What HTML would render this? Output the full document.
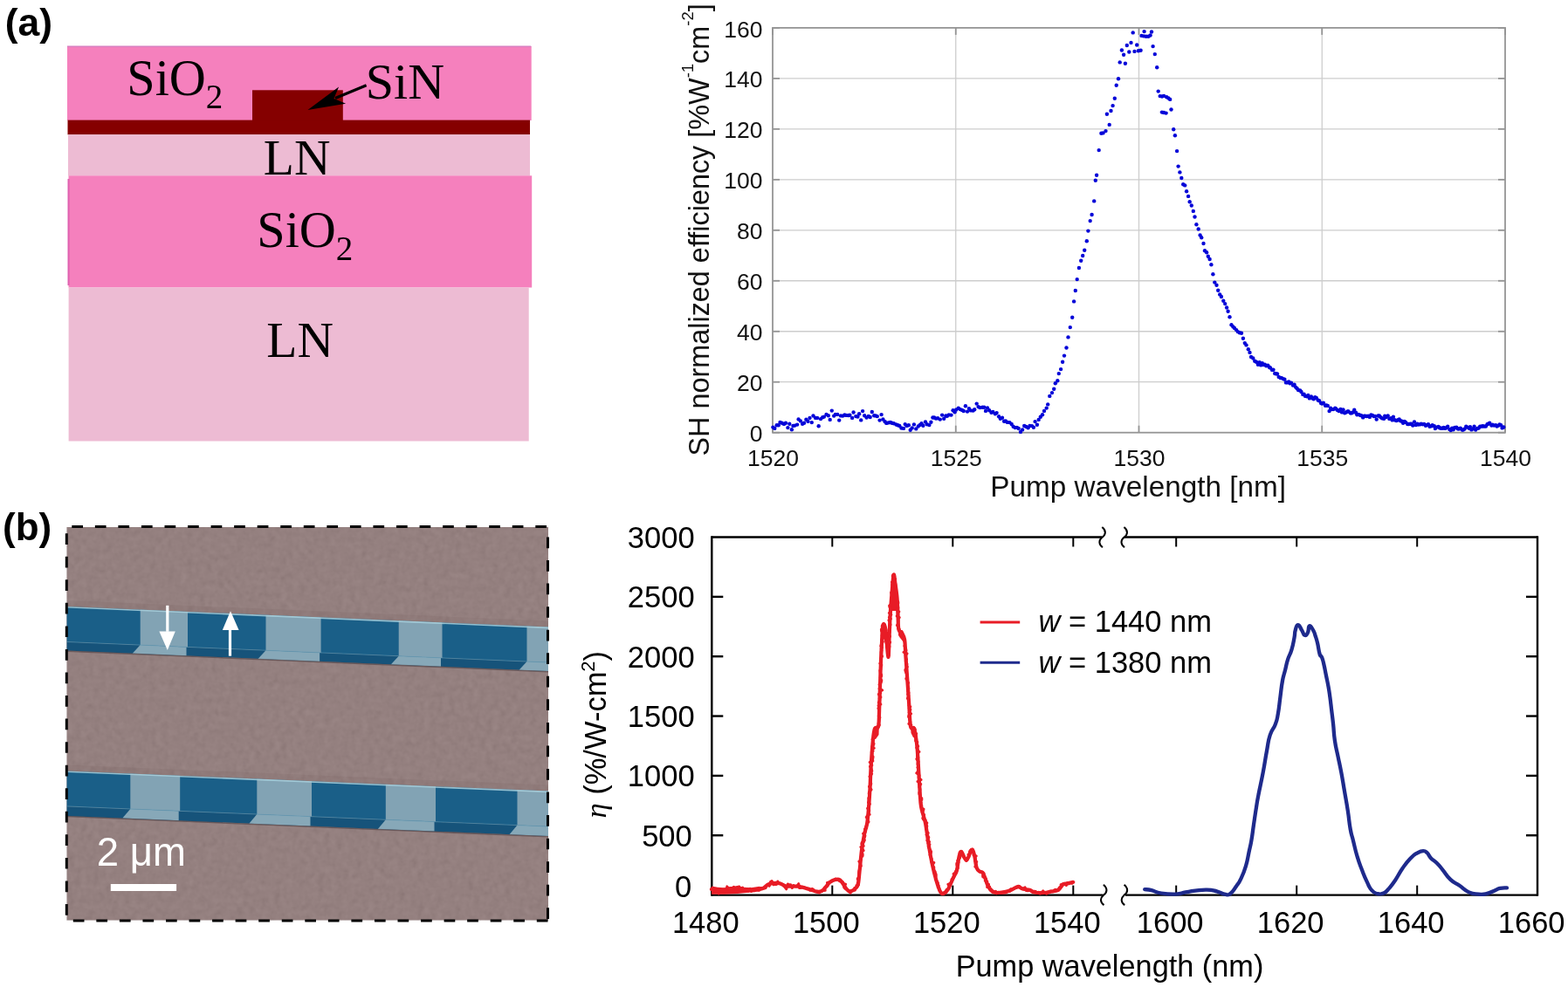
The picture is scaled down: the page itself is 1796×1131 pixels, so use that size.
<!DOCTYPE html>
<html><head><meta charset="utf-8"><title>Figure</title>
<style>
html,body{margin:0;padding:0;background:#fff;width:1796px;height:1131px;overflow:hidden}
svg{display:block}
.ser{font-family:"Liberation Serif","Times New Roman",serif}
.sans{font-family:"Liberation Sans",Arial,Helvetica,sans-serif}
</style></head><body>
<svg width="1796" height="1131" viewBox="0 0 1796 1131">

<text class="sans" x="5.8" y="40.5" font-size="44.5" font-weight="bold" fill="#000">(a)</text>
<text class="sans" x="3" y="619.3" font-size="44" font-weight="bold" fill="#000">(b)</text>
<rect x="77" y="53" width="531.7" height="85" fill="#F580BD"/>
<rect x="77" y="52.5" width="531.2" height="1.5" fill="#d97fc0"/>
<rect x="77.5" y="137.6" width="529.5" height="16.7" fill="#850000"/>
<rect x="289" y="103.3" width="103.8" height="35" fill="#850000"/>
<rect x="78" y="154.3" width="529" height="47.2" fill="#EDBBD3"/>
<rect x="78.5" y="201.3" width="530.7" height="128.2" fill="#F580BD"/>
<rect x="77.5" y="205" width="2" height="122" fill="#e060b0"/>
<rect x="78.6" y="329.5" width="527.1" height="176" fill="#EDBBD3"/>
<text class="ser" x="145.3" y="109.3" font-size="58.2" fill="#000">SiO<tspan font-size="39" dy="14.8">2</tspan></text>
<text class="ser" x="418.8" y="113.4" font-size="58" fill="#000">SiN</text>
<text class="ser" x="301.8" y="200" font-size="57.5" fill="#000">LN</text>
<text class="ser" x="294.3" y="283.3" font-size="58.2" fill="#000">SiO<tspan font-size="39" dy="14.8">2</tspan></text>
<text class="ser" x="305.3" y="408.6" font-size="57.5" fill="#000">LN</text>
<line x1="419.6" y1="97.8" x2="384" y2="112.4" stroke="#000" stroke-width="3.2"/>
<path d="M352.5,126.1 L388.1,99.5 L382.4,112.9 L396.1,118.8 Z" fill="#000"/>
<line x1="885.0" y1="437.72" x2="1724.0" y2="437.72" stroke="#cdcdcd" stroke-width="1.3"/>
<line x1="885.0" y1="379.75" x2="1724.0" y2="379.75" stroke="#cdcdcd" stroke-width="1.3"/>
<line x1="885.0" y1="321.77" x2="1724.0" y2="321.77" stroke="#cdcdcd" stroke-width="1.3"/>
<line x1="885.0" y1="263.80" x2="1724.0" y2="263.80" stroke="#cdcdcd" stroke-width="1.3"/>
<line x1="885.0" y1="205.82" x2="1724.0" y2="205.82" stroke="#cdcdcd" stroke-width="1.3"/>
<line x1="885.0" y1="147.85" x2="1724.0" y2="147.85" stroke="#cdcdcd" stroke-width="1.3"/>
<line x1="885.0" y1="89.88" x2="1724.0" y2="89.88" stroke="#cdcdcd" stroke-width="1.3"/>
<line x1="1094.75" y1="31.9" x2="1094.75" y2="495.7" stroke="#cdcdcd" stroke-width="1.3"/>
<line x1="1304.50" y1="31.9" x2="1304.50" y2="495.7" stroke="#cdcdcd" stroke-width="1.3"/>
<line x1="1514.25" y1="31.9" x2="1514.25" y2="495.7" stroke="#cdcdcd" stroke-width="1.3"/>
<rect x="885.0" y="31.9" width="839.0" height="463.8" fill="none" stroke="#959595" stroke-width="1.8"/>
<line x1="885.0" y1="495.70" x2="893.0" y2="495.70" stroke="#959595" stroke-width="1.8"/>
<line x1="1724.0" y1="495.70" x2="1716.0" y2="495.70" stroke="#959595" stroke-width="1.8"/>
<line x1="885.0" y1="437.72" x2="893.0" y2="437.72" stroke="#959595" stroke-width="1.8"/>
<line x1="1724.0" y1="437.72" x2="1716.0" y2="437.72" stroke="#959595" stroke-width="1.8"/>
<line x1="885.0" y1="379.75" x2="893.0" y2="379.75" stroke="#959595" stroke-width="1.8"/>
<line x1="1724.0" y1="379.75" x2="1716.0" y2="379.75" stroke="#959595" stroke-width="1.8"/>
<line x1="885.0" y1="321.77" x2="893.0" y2="321.77" stroke="#959595" stroke-width="1.8"/>
<line x1="1724.0" y1="321.77" x2="1716.0" y2="321.77" stroke="#959595" stroke-width="1.8"/>
<line x1="885.0" y1="263.80" x2="893.0" y2="263.80" stroke="#959595" stroke-width="1.8"/>
<line x1="1724.0" y1="263.80" x2="1716.0" y2="263.80" stroke="#959595" stroke-width="1.8"/>
<line x1="885.0" y1="205.82" x2="893.0" y2="205.82" stroke="#959595" stroke-width="1.8"/>
<line x1="1724.0" y1="205.82" x2="1716.0" y2="205.82" stroke="#959595" stroke-width="1.8"/>
<line x1="885.0" y1="147.85" x2="893.0" y2="147.85" stroke="#959595" stroke-width="1.8"/>
<line x1="1724.0" y1="147.85" x2="1716.0" y2="147.85" stroke="#959595" stroke-width="1.8"/>
<line x1="885.0" y1="89.88" x2="893.0" y2="89.88" stroke="#959595" stroke-width="1.8"/>
<line x1="1724.0" y1="89.88" x2="1716.0" y2="89.88" stroke="#959595" stroke-width="1.8"/>
<line x1="885.0" y1="31.90" x2="893.0" y2="31.90" stroke="#959595" stroke-width="1.8"/>
<line x1="1724.0" y1="31.90" x2="1716.0" y2="31.90" stroke="#959595" stroke-width="1.8"/>
<line x1="885.00" y1="495.7" x2="885.00" y2="487.7" stroke="#959595" stroke-width="1.8"/>
<line x1="885.00" y1="31.9" x2="885.00" y2="39.9" stroke="#959595" stroke-width="1.8"/>
<line x1="1094.75" y1="495.7" x2="1094.75" y2="487.7" stroke="#959595" stroke-width="1.8"/>
<line x1="1094.75" y1="31.9" x2="1094.75" y2="39.9" stroke="#959595" stroke-width="1.8"/>
<line x1="1304.50" y1="495.7" x2="1304.50" y2="487.7" stroke="#959595" stroke-width="1.8"/>
<line x1="1304.50" y1="31.9" x2="1304.50" y2="39.9" stroke="#959595" stroke-width="1.8"/>
<line x1="1514.25" y1="495.7" x2="1514.25" y2="487.7" stroke="#959595" stroke-width="1.8"/>
<line x1="1514.25" y1="31.9" x2="1514.25" y2="39.9" stroke="#959595" stroke-width="1.8"/>
<line x1="1724.00" y1="495.7" x2="1724.00" y2="487.7" stroke="#959595" stroke-width="1.8"/>
<line x1="1724.00" y1="31.9" x2="1724.00" y2="39.9" stroke="#959595" stroke-width="1.8"/>
<text class="sans" x="873.4" y="506.30" font-size="26.5" fill="#111111" text-anchor="end">0</text>
<text class="sans" x="873.4" y="448.32" font-size="26.5" fill="#111111" text-anchor="end">20</text>
<text class="sans" x="873.4" y="390.35" font-size="26.5" fill="#111111" text-anchor="end">40</text>
<text class="sans" x="873.4" y="332.38" font-size="26.5" fill="#111111" text-anchor="end">60</text>
<text class="sans" x="873.4" y="274.40" font-size="26.5" fill="#111111" text-anchor="end">80</text>
<text class="sans" x="873.4" y="216.42" font-size="26.5" fill="#111111" text-anchor="end">100</text>
<text class="sans" x="873.4" y="158.45" font-size="26.5" fill="#111111" text-anchor="end">120</text>
<text class="sans" x="873.4" y="100.47" font-size="26.5" fill="#111111" text-anchor="end">140</text>
<text class="sans" x="873.4" y="42.50" font-size="26.5" fill="#111111" text-anchor="end">160</text>
<text class="sans" x="885.40" y="533.8" font-size="26.5" fill="#111111" text-anchor="middle">1520</text>
<text class="sans" x="1095.15" y="533.8" font-size="26.5" fill="#111111" text-anchor="middle">1525</text>
<text class="sans" x="1304.90" y="533.8" font-size="26.5" fill="#111111" text-anchor="middle">1530</text>
<text class="sans" x="1514.65" y="533.8" font-size="26.5" fill="#111111" text-anchor="middle">1535</text>
<text class="sans" x="1724.40" y="533.8" font-size="26.5" fill="#111111" text-anchor="middle">1540</text>
<text class="sans" x="1303.7" y="569.2" font-size="33.3" fill="#111111" text-anchor="middle">Pump wavelength [nm]</text>
<text class="sans" transform="translate(811.8,263.4) rotate(-90)" font-size="32.4" fill="#111111" text-anchor="middle">SH normalized efficiency [%W<tspan font-size="18.5" dy="-18">-1</tspan><tspan dy="18">cm</tspan><tspan font-size="18.5" dy="-18">-2</tspan><tspan dy="18">]</tspan></text>
<g fill="#0505d8">
<circle cx="885.4" cy="489.6" r="2.2"/>
<circle cx="887.3" cy="490.9" r="2.2"/>
<circle cx="889.7" cy="487.3" r="2.2"/>
<circle cx="891.8" cy="487.3" r="2.2"/>
<circle cx="893.5" cy="483.9" r="2.2"/>
<circle cx="895.7" cy="484.8" r="2.2"/>
<circle cx="898.0" cy="485.9" r="2.2"/>
<circle cx="900.0" cy="484.7" r="2.2"/>
<circle cx="902.4" cy="490.1" r="2.2"/>
<circle cx="904.3" cy="485.7" r="2.2"/>
<circle cx="906.9" cy="492.2" r="2.2"/>
<circle cx="908.4" cy="487.9" r="2.2"/>
<circle cx="910.4" cy="487.6" r="2.2"/>
<circle cx="913.1" cy="486.6" r="2.2"/>
<circle cx="914.6" cy="480.4" r="2.2"/>
<circle cx="916.9" cy="482.4" r="2.2"/>
<circle cx="919.1" cy="485.8" r="2.2"/>
<circle cx="921.0" cy="484.7" r="2.2"/>
<circle cx="923.4" cy="480.8" r="2.2"/>
<circle cx="925.5" cy="482.9" r="2.2"/>
<circle cx="927.5" cy="478.9" r="2.2"/>
<circle cx="929.8" cy="484.1" r="2.2"/>
<circle cx="931.5" cy="476.5" r="2.2"/>
<circle cx="934.1" cy="478.9" r="2.2"/>
<circle cx="936.1" cy="478.9" r="2.2"/>
<circle cx="937.7" cy="488.3" r="2.2"/>
<circle cx="940.0" cy="480.1" r="2.2"/>
<circle cx="942.2" cy="478.3" r="2.2"/>
<circle cx="943.9" cy="477.6" r="2.2"/>
<circle cx="946.5" cy="474.9" r="2.2"/>
<circle cx="948.8" cy="476.2" r="2.2"/>
<circle cx="950.7" cy="480.9" r="2.2"/>
<circle cx="952.8" cy="470.6" r="2.2"/>
<circle cx="955.2" cy="476.6" r="2.2"/>
<circle cx="956.9" cy="474.9" r="2.2"/>
<circle cx="959.2" cy="474.9" r="2.2"/>
<circle cx="961.2" cy="481.6" r="2.2"/>
<circle cx="963.0" cy="476.4" r="2.2"/>
<circle cx="965.2" cy="476.6" r="2.2"/>
<circle cx="967.4" cy="475.5" r="2.2"/>
<circle cx="969.2" cy="475.9" r="2.2"/>
<circle cx="971.8" cy="476.0" r="2.2"/>
<circle cx="973.4" cy="475.8" r="2.2"/>
<circle cx="976.1" cy="478.9" r="2.2"/>
<circle cx="977.6" cy="472.5" r="2.2"/>
<circle cx="980.3" cy="477.1" r="2.2"/>
<circle cx="982.4" cy="477.5" r="2.2"/>
<circle cx="984.1" cy="474.2" r="2.2"/>
<circle cx="986.2" cy="481.4" r="2.2"/>
<circle cx="988.1" cy="471.1" r="2.2"/>
<circle cx="990.2" cy="476.3" r="2.2"/>
<circle cx="992.6" cy="478.6" r="2.2"/>
<circle cx="994.8" cy="476.9" r="2.2"/>
<circle cx="996.7" cy="478.0" r="2.2"/>
<circle cx="998.8" cy="472.0" r="2.2"/>
<circle cx="1001.2" cy="476.3" r="2.2"/>
<circle cx="1003.1" cy="476.4" r="2.2"/>
<circle cx="1004.8" cy="477.1" r="2.2"/>
<circle cx="1007.6" cy="481.6" r="2.2"/>
<circle cx="1009.6" cy="475.1" r="2.2"/>
<circle cx="1011.4" cy="480.5" r="2.2"/>
<circle cx="1013.7" cy="483.2" r="2.2"/>
<circle cx="1015.3" cy="484.9" r="2.2"/>
<circle cx="1017.5" cy="484.4" r="2.2"/>
<circle cx="1019.8" cy="484.0" r="2.2"/>
<circle cx="1021.7" cy="484.8" r="2.2"/>
<circle cx="1023.8" cy="485.2" r="2.2"/>
<circle cx="1026.5" cy="486.5" r="2.2"/>
<circle cx="1028.4" cy="487.3" r="2.2"/>
<circle cx="1030.3" cy="487.9" r="2.2"/>
<circle cx="1032.4" cy="490.5" r="2.2"/>
<circle cx="1035.0" cy="490.9" r="2.2"/>
<circle cx="1036.7" cy="486.1" r="2.2"/>
<circle cx="1038.5" cy="487.9" r="2.2"/>
<circle cx="1040.8" cy="487.3" r="2.2"/>
<circle cx="1042.7" cy="492.8" r="2.2"/>
<circle cx="1044.7" cy="490.4" r="2.2"/>
<circle cx="1046.9" cy="486.4" r="2.2"/>
<circle cx="1049.3" cy="491.4" r="2.2"/>
<circle cx="1051.8" cy="488.5" r="2.2"/>
<circle cx="1053.8" cy="486.9" r="2.2"/>
<circle cx="1055.5" cy="485.3" r="2.2"/>
<circle cx="1057.4" cy="487.7" r="2.2"/>
<circle cx="1060.0" cy="483.5" r="2.2"/>
<circle cx="1061.8" cy="486.2" r="2.2"/>
<circle cx="1064.4" cy="487.1" r="2.2"/>
<circle cx="1066.4" cy="483.7" r="2.2"/>
<circle cx="1068.4" cy="478.5" r="2.2"/>
<circle cx="1070.1" cy="478.5" r="2.2"/>
<circle cx="1072.0" cy="479.6" r="2.2"/>
<circle cx="1074.1" cy="479.3" r="2.2"/>
<circle cx="1076.8" cy="480.6" r="2.2"/>
<circle cx="1079.1" cy="475.6" r="2.2"/>
<circle cx="1081.2" cy="479.7" r="2.2"/>
<circle cx="1083.3" cy="476.5" r="2.2"/>
<circle cx="1084.8" cy="476.8" r="2.2"/>
<circle cx="1086.9" cy="475.4" r="2.2"/>
<circle cx="1089.5" cy="475.6" r="2.2"/>
<circle cx="1091.6" cy="470.3" r="2.2"/>
<circle cx="1093.6" cy="472.3" r="2.2"/>
<circle cx="1095.2" cy="469.5" r="2.2"/>
<circle cx="1097.8" cy="467.8" r="2.2"/>
<circle cx="1099.9" cy="469.1" r="2.2"/>
<circle cx="1102.0" cy="470.0" r="2.2"/>
<circle cx="1103.8" cy="471.0" r="2.2"/>
<circle cx="1105.9" cy="465.3" r="2.2"/>
<circle cx="1108.0" cy="471.6" r="2.2"/>
<circle cx="1109.9" cy="468.1" r="2.2"/>
<circle cx="1112.0" cy="470.4" r="2.2"/>
<circle cx="1114.6" cy="470.6" r="2.2"/>
<circle cx="1116.2" cy="469.3" r="2.2"/>
<circle cx="1118.7" cy="462.6" r="2.2"/>
<circle cx="1120.6" cy="466.1" r="2.2"/>
<circle cx="1122.4" cy="467.1" r="2.2"/>
<circle cx="1125.3" cy="466.7" r="2.2"/>
<circle cx="1127.3" cy="466.7" r="2.2"/>
<circle cx="1129.0" cy="470.9" r="2.2"/>
<circle cx="1131.0" cy="467.4" r="2.2"/>
<circle cx="1133.1" cy="470.3" r="2.2"/>
<circle cx="1135.5" cy="472.8" r="2.2"/>
<circle cx="1137.3" cy="472.0" r="2.2"/>
<circle cx="1139.9" cy="474.2" r="2.2"/>
<circle cx="1141.6" cy="473.1" r="2.2"/>
<circle cx="1144.1" cy="477.2" r="2.2"/>
<circle cx="1145.8" cy="479.8" r="2.2"/>
<circle cx="1148.0" cy="478.7" r="2.2"/>
<circle cx="1150.1" cy="482.8" r="2.2"/>
<circle cx="1151.9" cy="482.5" r="2.2"/>
<circle cx="1153.9" cy="483.9" r="2.2"/>
<circle cx="1156.4" cy="484.1" r="2.2"/>
<circle cx="1158.7" cy="486.0" r="2.2"/>
<circle cx="1160.6" cy="488.7" r="2.2"/>
<circle cx="1162.7" cy="490.1" r="2.2"/>
<circle cx="1164.8" cy="489.9" r="2.2"/>
<circle cx="1166.7" cy="491.0" r="2.2"/>
<circle cx="1169.0" cy="494.9" r="2.2"/>
<circle cx="1171.1" cy="492.4" r="2.2"/>
<circle cx="1173.2" cy="488.0" r="2.2"/>
<circle cx="1175.4" cy="489.0" r="2.2"/>
<circle cx="1177.6" cy="490.2" r="2.2"/>
<circle cx="1179.5" cy="487.9" r="2.2"/>
<circle cx="1182.0" cy="488.1" r="2.2"/>
<circle cx="1183.9" cy="489.8" r="2.2"/>
<circle cx="1185.6" cy="483.1" r="2.2"/>
<circle cx="1187.9" cy="486.8" r="2.2"/>
<circle cx="1189.7" cy="480.9" r="2.2"/>
<circle cx="1191.8" cy="477.8" r="2.2"/>
<circle cx="1194.0" cy="475.2" r="2.2"/>
<circle cx="1196.0" cy="470.9" r="2.2"/>
<circle cx="1198.7" cy="467.6" r="2.2"/>
<circle cx="1200.2" cy="463.4" r="2.2"/>
<circle cx="1202.3" cy="453.9" r="2.2"/>
<circle cx="1205.0" cy="450.1" r="2.2"/>
<circle cx="1207.2" cy="445.8" r="2.2"/>
<circle cx="1208.8" cy="439.3" r="2.2"/>
<circle cx="1211.3" cy="436.2" r="2.2"/>
<circle cx="1212.8" cy="428.1" r="2.2"/>
<circle cx="1215.1" cy="423.1" r="2.2"/>
<circle cx="1217.1" cy="414.7" r="2.2"/>
<circle cx="1219.0" cy="407.6" r="2.2"/>
<circle cx="1221.5" cy="398.5" r="2.2"/>
<circle cx="1223.5" cy="386.4" r="2.2"/>
<circle cx="1225.8" cy="375.1" r="2.2"/>
<circle cx="1228.2" cy="363.8" r="2.2"/>
<circle cx="1230.1" cy="345.4" r="2.2"/>
<circle cx="1231.8" cy="333.0" r="2.2"/>
<circle cx="1233.7" cy="320.1" r="2.2"/>
<circle cx="1235.9" cy="307.0" r="2.2"/>
<circle cx="1238.2" cy="298.7" r="2.2"/>
<circle cx="1240.2" cy="293.0" r="2.2"/>
<circle cx="1242.2" cy="286.7" r="2.2"/>
<circle cx="1244.8" cy="276.3" r="2.2"/>
<circle cx="1246.4" cy="264.6" r="2.2"/>
<circle cx="1248.7" cy="253.1" r="2.2"/>
<circle cx="1250.6" cy="246.0" r="2.2"/>
<circle cx="1253.2" cy="230.4" r="2.2"/>
<circle cx="1254.8" cy="206.8" r="2.2"/>
<circle cx="1256.1" cy="200.7" r="2.2"/>
<circle cx="1258.7" cy="172.1" r="2.2"/>
<circle cx="1261.4" cy="152.7" r="2.2"/>
<circle cx="1263.5" cy="152.4" r="2.2"/>
<circle cx="1266.5" cy="150.1" r="2.2"/>
<circle cx="1270.7" cy="142.9" r="2.2"/>
<circle cx="1267.9" cy="130.7" r="2.2"/>
<circle cx="1272.5" cy="127.0" r="2.2"/>
<circle cx="1274.6" cy="121.1" r="2.2"/>
<circle cx="1276.8" cy="112.7" r="2.2"/>
<circle cx="1278.7" cy="97.8" r="2.2"/>
<circle cx="1281.0" cy="90.3" r="2.2"/>
<circle cx="1282.7" cy="71.4" r="2.2"/>
<circle cx="1288.9" cy="72.7" r="2.2"/>
<circle cx="1284.9" cy="57.5" r="2.2"/>
<circle cx="1287.1" cy="62.8" r="2.2"/>
<circle cx="1290.8" cy="52.0" r="2.2"/>
<circle cx="1293.3" cy="59.5" r="2.2"/>
<circle cx="1295.5" cy="48.9" r="2.2"/>
<circle cx="1297.7" cy="37.4" r="2.2"/>
<circle cx="1299.5" cy="58.9" r="2.2"/>
<circle cx="1302.2" cy="51.5" r="2.2"/>
<circle cx="1303.9" cy="58.2" r="2.2"/>
<circle cx="1306.6" cy="57.7" r="2.2"/>
<circle cx="1307.5" cy="40.9" r="2.2"/>
<circle cx="1310.1" cy="41.4" r="2.2"/>
<circle cx="1310.6" cy="36.1" r="2.2"/>
<circle cx="1312.8" cy="41.8" r="2.2"/>
<circle cx="1315.4" cy="41.8" r="2.2"/>
<circle cx="1317.6" cy="40.5" r="2.2"/>
<circle cx="1319.0" cy="36.5" r="2.2"/>
<circle cx="1320.6" cy="53.1" r="2.2"/>
<circle cx="1322.8" cy="62.1" r="2.2"/>
<circle cx="1325.2" cy="77.3" r="2.2"/>
<circle cx="1326.7" cy="104.6" r="2.2"/>
<circle cx="1328.7" cy="110.1" r="2.2"/>
<circle cx="1331.0" cy="110.5" r="2.2"/>
<circle cx="1333.1" cy="109.9" r="2.2"/>
<circle cx="1336.2" cy="111.2" r="2.2"/>
<circle cx="1338.4" cy="112.5" r="2.2"/>
<circle cx="1340.2" cy="113.9" r="2.2"/>
<circle cx="1330.9" cy="128.6" r="2.2"/>
<circle cx="1333.0" cy="129.0" r="2.2"/>
<circle cx="1335.6" cy="129.6" r="2.2"/>
<circle cx="1341.5" cy="125.5" r="2.2"/>
<circle cx="1344.2" cy="148.2" r="2.2"/>
<circle cx="1345.9" cy="155.3" r="2.2"/>
<circle cx="1348.1" cy="173.1" r="2.2"/>
<circle cx="1349.6" cy="190.6" r="2.2"/>
<circle cx="1351.4" cy="197.4" r="2.2"/>
<circle cx="1353.3" cy="204.0" r="2.2"/>
<circle cx="1355.2" cy="211.2" r="2.2"/>
<circle cx="1357.2" cy="212.4" r="2.2"/>
<circle cx="1359.1" cy="219.3" r="2.2"/>
<circle cx="1361.1" cy="224.9" r="2.2"/>
<circle cx="1362.7" cy="231.3" r="2.2"/>
<circle cx="1364.8" cy="235.5" r="2.2"/>
<circle cx="1366.8" cy="241.9" r="2.2"/>
<circle cx="1368.5" cy="248.5" r="2.2"/>
<circle cx="1370.4" cy="257.2" r="2.2"/>
<circle cx="1372.7" cy="262.5" r="2.2"/>
<circle cx="1374.6" cy="269.5" r="2.2"/>
<circle cx="1376.2" cy="272.2" r="2.2"/>
<circle cx="1378.5" cy="279.0" r="2.2"/>
<circle cx="1380.0" cy="287.3" r="2.2"/>
<circle cx="1382.1" cy="289.3" r="2.2"/>
<circle cx="1383.8" cy="293.8" r="2.2"/>
<circle cx="1385.6" cy="297.0" r="2.2"/>
<circle cx="1387.4" cy="303.2" r="2.2"/>
<circle cx="1389.4" cy="314.3" r="2.2"/>
<circle cx="1391.3" cy="323.6" r="2.2"/>
<circle cx="1393.5" cy="326.8" r="2.2"/>
<circle cx="1395.2" cy="332.8" r="2.2"/>
<circle cx="1397.2" cy="337.4" r="2.2"/>
<circle cx="1398.9" cy="340.0" r="2.2"/>
<circle cx="1401.3" cy="344.8" r="2.2"/>
<circle cx="1403.2" cy="348.1" r="2.2"/>
<circle cx="1405.1" cy="352.5" r="2.2"/>
<circle cx="1406.6" cy="356.7" r="2.2"/>
<circle cx="1408.5" cy="363.2" r="2.2"/>
<circle cx="1410.5" cy="372.2" r="2.2"/>
<circle cx="1412.4" cy="374.4" r="2.2"/>
<circle cx="1414.0" cy="376.0" r="2.2"/>
<circle cx="1416.1" cy="378.1" r="2.2"/>
<circle cx="1417.8" cy="380.1" r="2.2"/>
<circle cx="1419.8" cy="381.2" r="2.2"/>
<circle cx="1422.0" cy="381.7" r="2.2"/>
<circle cx="1423.9" cy="387.8" r="2.2"/>
<circle cx="1425.8" cy="393.1" r="2.2"/>
<circle cx="1427.5" cy="395.4" r="2.2"/>
<circle cx="1429.8" cy="400.2" r="2.2"/>
<circle cx="1431.5" cy="403.9" r="2.2"/>
<circle cx="1433.0" cy="409.0" r="2.2"/>
<circle cx="1435.3" cy="410.5" r="2.2"/>
<circle cx="1437.2" cy="413.7" r="2.2"/>
<circle cx="1439.0" cy="414.7" r="2.2"/>
<circle cx="1440.9" cy="417.7" r="2.2"/>
<circle cx="1442.7" cy="415.2" r="2.2"/>
<circle cx="1444.2" cy="418.4" r="2.2"/>
<circle cx="1445.8" cy="416.2" r="2.2"/>
<circle cx="1447.1" cy="418.0" r="2.2"/>
<circle cx="1448.8" cy="417.8" r="2.2"/>
<circle cx="1450.3" cy="419.3" r="2.2"/>
<circle cx="1452.2" cy="418.8" r="2.2"/>
<circle cx="1453.8" cy="420.8" r="2.2"/>
<circle cx="1455.0" cy="421.5" r="2.2"/>
<circle cx="1457.1" cy="423.9" r="2.2"/>
<circle cx="1458.5" cy="423.8" r="2.2"/>
<circle cx="1460.2" cy="428.0" r="2.2"/>
<circle cx="1461.6" cy="428.2" r="2.2"/>
<circle cx="1463.0" cy="428.5" r="2.2"/>
<circle cx="1464.7" cy="431.9" r="2.2"/>
<circle cx="1466.6" cy="433.0" r="2.2"/>
<circle cx="1468.0" cy="433.1" r="2.2"/>
<circle cx="1469.7" cy="434.1" r="2.2"/>
<circle cx="1471.4" cy="434.8" r="2.2"/>
<circle cx="1473.0" cy="438.4" r="2.2"/>
<circle cx="1474.4" cy="438.2" r="2.2"/>
<circle cx="1476.2" cy="437.4" r="2.2"/>
<circle cx="1477.4" cy="439.2" r="2.2"/>
<circle cx="1479.0" cy="438.6" r="2.2"/>
<circle cx="1481.0" cy="441.6" r="2.2"/>
<circle cx="1482.6" cy="440.8" r="2.2"/>
<circle cx="1484.1" cy="443.6" r="2.2"/>
<circle cx="1485.7" cy="445.3" r="2.2"/>
<circle cx="1487.1" cy="447.0" r="2.2"/>
<circle cx="1489.2" cy="447.4" r="2.2"/>
<circle cx="1490.5" cy="449.0" r="2.2"/>
<circle cx="1492.3" cy="452.0" r="2.2"/>
<circle cx="1493.6" cy="451.8" r="2.2"/>
<circle cx="1495.1" cy="453.9" r="2.2"/>
<circle cx="1496.9" cy="454.2" r="2.2"/>
<circle cx="1498.3" cy="453.0" r="2.2"/>
<circle cx="1499.9" cy="456.4" r="2.2"/>
<circle cx="1501.9" cy="454.5" r="2.2"/>
<circle cx="1503.4" cy="456.4" r="2.2"/>
<circle cx="1504.7" cy="457.2" r="2.2"/>
<circle cx="1506.2" cy="455.2" r="2.2"/>
<circle cx="1507.8" cy="455.9" r="2.2"/>
<circle cx="1509.6" cy="458.5" r="2.2"/>
<circle cx="1511.1" cy="459.3" r="2.2"/>
<circle cx="1513.1" cy="461.9" r="2.2"/>
<circle cx="1514.2" cy="462.5" r="2.2"/>
<circle cx="1515.9" cy="461.8" r="2.2"/>
<circle cx="1518.0" cy="464.7" r="2.2"/>
<circle cx="1519.2" cy="464.4" r="2.2"/>
<circle cx="1520.8" cy="464.9" r="2.2"/>
<circle cx="1522.6" cy="471.1" r="2.2"/>
<circle cx="1524.0" cy="467.8" r="2.2"/>
<circle cx="1525.4" cy="469.0" r="2.2"/>
<circle cx="1527.1" cy="469.1" r="2.2"/>
<circle cx="1529.2" cy="467.8" r="2.2"/>
<circle cx="1530.3" cy="468.5" r="2.2"/>
<circle cx="1531.9" cy="469.9" r="2.2"/>
<circle cx="1533.6" cy="471.0" r="2.2"/>
<circle cx="1535.5" cy="468.9" r="2.2"/>
<circle cx="1537.0" cy="472.4" r="2.2"/>
<circle cx="1538.5" cy="469.5" r="2.2"/>
<circle cx="1540.2" cy="473.3" r="2.2"/>
<circle cx="1541.7" cy="472.5" r="2.2"/>
<circle cx="1543.5" cy="471.5" r="2.2"/>
<circle cx="1544.6" cy="471.5" r="2.2"/>
<circle cx="1546.8" cy="473.2" r="2.2"/>
<circle cx="1548.0" cy="473.4" r="2.2"/>
<circle cx="1549.6" cy="472.5" r="2.2"/>
<circle cx="1551.2" cy="469.8" r="2.2"/>
<circle cx="1553.0" cy="472.7" r="2.2"/>
<circle cx="1554.4" cy="475.2" r="2.2"/>
<circle cx="1555.9" cy="474.9" r="2.2"/>
<circle cx="1557.9" cy="475.8" r="2.2"/>
<circle cx="1559.3" cy="476.3" r="2.2"/>
<circle cx="1561.2" cy="478.4" r="2.2"/>
<circle cx="1562.5" cy="476.6" r="2.2"/>
<circle cx="1563.9" cy="476.8" r="2.2"/>
<circle cx="1565.6" cy="477.0" r="2.2"/>
<circle cx="1567.2" cy="476.8" r="2.2"/>
<circle cx="1568.9" cy="477.9" r="2.2"/>
<circle cx="1570.4" cy="475.5" r="2.2"/>
<circle cx="1572.0" cy="475.9" r="2.2"/>
<circle cx="1573.6" cy="477.1" r="2.2"/>
<circle cx="1575.0" cy="477.0" r="2.2"/>
<circle cx="1576.7" cy="480.6" r="2.2"/>
<circle cx="1578.5" cy="476.5" r="2.2"/>
<circle cx="1579.9" cy="476.5" r="2.2"/>
<circle cx="1581.6" cy="478.2" r="2.2"/>
<circle cx="1583.3" cy="479.4" r="2.2"/>
<circle cx="1585.2" cy="479.7" r="2.2"/>
<circle cx="1586.2" cy="476.7" r="2.2"/>
<circle cx="1587.8" cy="478.0" r="2.2"/>
<circle cx="1589.7" cy="476.4" r="2.2"/>
<circle cx="1591.4" cy="479.9" r="2.2"/>
<circle cx="1593.2" cy="479.1" r="2.2"/>
<circle cx="1594.7" cy="481.4" r="2.2"/>
<circle cx="1595.9" cy="477.7" r="2.2"/>
<circle cx="1597.5" cy="481.3" r="2.2"/>
<circle cx="1599.4" cy="482.1" r="2.2"/>
<circle cx="1601.2" cy="481.2" r="2.2"/>
<circle cx="1602.7" cy="480.4" r="2.2"/>
<circle cx="1604.1" cy="482.2" r="2.2"/>
<circle cx="1605.9" cy="482.8" r="2.2"/>
<circle cx="1607.1" cy="484.7" r="2.2"/>
<circle cx="1608.8" cy="482.9" r="2.2"/>
<circle cx="1610.3" cy="484.1" r="2.2"/>
<circle cx="1612.2" cy="486.0" r="2.2"/>
<circle cx="1613.5" cy="486.0" r="2.2"/>
<circle cx="1615.3" cy="485.8" r="2.2"/>
<circle cx="1616.8" cy="485.8" r="2.2"/>
<circle cx="1618.2" cy="487.5" r="2.2"/>
<circle cx="1620.0" cy="483.5" r="2.2"/>
<circle cx="1621.8" cy="487.0" r="2.2"/>
<circle cx="1623.5" cy="485.6" r="2.2"/>
<circle cx="1624.7" cy="486.6" r="2.2"/>
<circle cx="1626.8" cy="486.3" r="2.2"/>
<circle cx="1627.8" cy="485.8" r="2.2"/>
<circle cx="1629.7" cy="486.3" r="2.2"/>
<circle cx="1631.2" cy="485.9" r="2.2"/>
<circle cx="1633.0" cy="487.7" r="2.2"/>
<circle cx="1634.2" cy="486.9" r="2.2"/>
<circle cx="1636.0" cy="486.2" r="2.2"/>
<circle cx="1637.5" cy="488.7" r="2.2"/>
<circle cx="1639.5" cy="488.2" r="2.2"/>
<circle cx="1640.7" cy="487.3" r="2.2"/>
<circle cx="1642.8" cy="488.2" r="2.2"/>
<circle cx="1643.9" cy="491.1" r="2.2"/>
<circle cx="1645.5" cy="489.6" r="2.2"/>
<circle cx="1647.6" cy="488.9" r="2.2"/>
<circle cx="1648.9" cy="490.2" r="2.2"/>
<circle cx="1650.5" cy="490.7" r="2.2"/>
<circle cx="1652.2" cy="490.7" r="2.2"/>
<circle cx="1653.6" cy="490.0" r="2.2"/>
<circle cx="1655.1" cy="490.9" r="2.2"/>
<circle cx="1656.6" cy="490.3" r="2.2"/>
<circle cx="1658.2" cy="488.6" r="2.2"/>
<circle cx="1660.3" cy="492.0" r="2.2"/>
<circle cx="1661.8" cy="493.1" r="2.2"/>
<circle cx="1663.2" cy="490.6" r="2.2"/>
<circle cx="1664.7" cy="492.3" r="2.2"/>
<circle cx="1666.2" cy="489.9" r="2.2"/>
<circle cx="1668.2" cy="489.8" r="2.2"/>
<circle cx="1669.6" cy="491.3" r="2.2"/>
<circle cx="1671.1" cy="491.5" r="2.2"/>
<circle cx="1672.8" cy="490.6" r="2.2"/>
<circle cx="1674.8" cy="492.6" r="2.2"/>
<circle cx="1675.9" cy="492.6" r="2.2"/>
<circle cx="1677.6" cy="491.5" r="2.2"/>
<circle cx="1679.3" cy="488.8" r="2.2"/>
<circle cx="1680.6" cy="489.6" r="2.2"/>
<circle cx="1682.8" cy="490.8" r="2.2"/>
<circle cx="1683.9" cy="489.1" r="2.2"/>
<circle cx="1685.4" cy="492.4" r="2.2"/>
<circle cx="1687.2" cy="491.3" r="2.2"/>
<circle cx="1688.6" cy="488.7" r="2.2"/>
<circle cx="1690.2" cy="492.5" r="2.2"/>
<circle cx="1692.0" cy="490.9" r="2.2"/>
<circle cx="1693.8" cy="490.5" r="2.2"/>
<circle cx="1695.2" cy="488.8" r="2.2"/>
<circle cx="1697.2" cy="488.5" r="2.2"/>
<circle cx="1698.6" cy="488.3" r="2.2"/>
<circle cx="1700.0" cy="488.6" r="2.2"/>
<circle cx="1701.9" cy="488.5" r="2.2"/>
<circle cx="1703.5" cy="486.3" r="2.2"/>
<circle cx="1704.6" cy="485.8" r="2.2"/>
<circle cx="1706.3" cy="484.7" r="2.2"/>
<circle cx="1708.4" cy="487.5" r="2.2"/>
<circle cx="1709.6" cy="486.8" r="2.2"/>
<circle cx="1711.3" cy="487.6" r="2.2"/>
<circle cx="1713.2" cy="487.1" r="2.2"/>
<circle cx="1714.6" cy="488.6" r="2.2"/>
<circle cx="1716.3" cy="487.6" r="2.2"/>
<circle cx="1717.6" cy="486.4" r="2.2"/>
<circle cx="1719.2" cy="487.2" r="2.2"/>
<circle cx="1720.6" cy="490.4" r="2.2"/>
<circle cx="1722.3" cy="489.5" r="2.2"/>
</g>
<g stroke="#000" stroke-width="2.4" fill="none" stroke-linecap="butt">
<line x1="815.3" y1="614.3" x2="815.3" y2="1026.8"/>
<line x1="1761.0" y1="614.3" x2="1761.0" y2="1026.8"/>
<line x1="815.3" y1="615.5" x2="1262" y2="615.5"/>
<line x1="1288" y1="615.5" x2="1761.0" y2="615.5"/>
<line x1="815.3" y1="1025.6" x2="1263" y2="1025.6"/>
<line x1="1289" y1="1025.6" x2="1761.0" y2="1025.6"/>
<line x1="815.3" y1="957.25" x2="828.3" y2="957.25"/>
<line x1="1761.0" y1="957.25" x2="1748.0" y2="957.25"/>
<line x1="815.3" y1="888.90" x2="828.3" y2="888.90"/>
<line x1="1761.0" y1="888.90" x2="1748.0" y2="888.90"/>
<line x1="815.3" y1="820.55" x2="828.3" y2="820.55"/>
<line x1="1761.0" y1="820.55" x2="1748.0" y2="820.55"/>
<line x1="815.3" y1="752.20" x2="828.3" y2="752.20"/>
<line x1="1761.0" y1="752.20" x2="1748.0" y2="752.20"/>
<line x1="815.3" y1="683.85" x2="828.3" y2="683.85"/>
<line x1="1761.0" y1="683.85" x2="1748.0" y2="683.85"/>
</g>
<g stroke="#000" stroke-width="2" fill="none">
<line x1="953.30" y1="1025.6" x2="953.30" y2="1014.5999999999999"/>
<line x1="953.30" y1="615.5" x2="953.30" y2="626.5"/>
<line x1="1091.30" y1="1025.6" x2="1091.30" y2="1014.5999999999999"/>
<line x1="1091.30" y1="615.5" x2="1091.30" y2="626.5"/>
<line x1="1229.30" y1="1025.6" x2="1229.30" y2="1014.5999999999999"/>
<line x1="1229.30" y1="615.5" x2="1229.30" y2="626.5"/>
<line x1="1347.20" y1="1025.6" x2="1347.20" y2="1014.5999999999999"/>
<line x1="1347.20" y1="615.5" x2="1347.20" y2="626.5"/>
<line x1="1485.20" y1="1025.6" x2="1485.20" y2="1014.5999999999999"/>
<line x1="1485.20" y1="615.5" x2="1485.20" y2="626.5"/>
<line x1="1623.20" y1="1025.6" x2="1623.20" y2="1014.5999999999999"/>
<line x1="1623.20" y1="615.5" x2="1623.20" y2="626.5"/>
<path d="M1262.3,604.0 C1267.3,607.8 1266.8,612.8 1262.3,615.8 C1258.3,619.3 1258.3,623.8 1262.8999999999999,627.1999999999999"/>
<path d="M1287.4,604.0 C1292.4,607.8 1291.9,612.8 1287.4,615.8 C1283.4,619.3 1283.4,623.8 1288.0,627.1999999999999"/>
<path d="M1263.9,1013.9000000000001 C1268.9,1017.7 1268.4,1022.7 1263.9,1025.7 C1259.9,1029.2 1259.9,1033.7 1264.5,1037.1000000000001"/>
<path d="M1287.6,1013.9000000000001 C1292.6,1017.7 1292.1,1022.7 1287.6,1025.7 C1283.6,1029.2 1283.6,1033.7 1288.1999999999998,1037.1000000000001"/>
</g>
<path d="M815.00,1019.00 C815.83,1019.17 818.05,1019.82 820.00,1020.00 C821.95,1020.18 824.20,1020.35 826.70,1020.10 C829.20,1019.85 832.03,1018.95 835.00,1018.50 C837.97,1018.05 841.67,1017.32 844.50,1017.40 C847.33,1017.48 849.02,1018.55 852.00,1019.00 C854.98,1019.45 858.90,1020.22 862.40,1020.10 C865.90,1019.98 869.90,1019.48 873.00,1018.30 C876.10,1017.12 877.73,1014.03 881.00,1013.00 C884.27,1011.97 889.32,1011.67 892.60,1012.10 C895.88,1012.53 897.13,1015.02 900.70,1015.60 C904.27,1016.18 910.00,1015.15 914.00,1015.60 C918.00,1016.05 920.98,1017.25 924.70,1018.30 C928.42,1019.35 933.33,1021.60 936.30,1021.90 C939.27,1022.20 940.23,1021.85 942.50,1020.10 C944.77,1018.35 948.05,1013.27 949.90,1011.40 C951.75,1009.53 951.75,1009.52 953.60,1008.90 C955.45,1008.28 959.15,1007.28 961.00,1007.70 C962.85,1008.12 963.25,1009.55 964.70,1011.40 C966.15,1013.25 968.25,1017.15 969.70,1018.80 C971.15,1020.45 971.95,1021.20 973.40,1021.30 C974.85,1021.40 976.85,1020.65 978.40,1019.40 C979.95,1018.15 981.68,1017.20 982.70,1013.80 C983.72,1010.40 983.78,1005.60 984.50,999.00 C985.22,992.40 986.07,981.42 987.00,974.20 C987.93,966.98 989.07,960.85 990.10,955.70 C991.13,950.55 992.37,948.47 993.20,943.30 C994.03,938.13 994.55,931.42 995.10,924.70 C995.65,917.98 996.05,911.25 996.50,903.00 C996.95,894.75 997.17,885.03 997.80,875.20 C998.43,865.37 999.57,850.80 1000.30,844.00 C1001.03,837.20 1001.23,836.32 1002.20,834.40 C1003.17,832.48 1005.28,835.73 1006.10,832.50 C1006.92,829.27 1006.78,822.75 1007.10,815.00 C1007.42,807.25 1007.68,795.67 1008.00,786.00 C1008.32,776.33 1008.67,765.17 1009.00,757.00 C1009.33,748.83 1009.67,743.50 1010.00,737.00 C1010.33,730.50 1010.52,721.53 1011.00,718.00 C1011.48,714.47 1012.27,714.55 1012.90,715.80 C1013.53,717.05 1014.15,719.97 1014.80,725.50 C1015.45,731.03 1016.30,744.78 1016.80,749.00 C1017.30,753.22 1017.48,754.38 1017.80,750.80 C1018.12,747.22 1018.38,735.27 1018.70,727.50 C1019.02,719.73 1019.22,712.28 1019.70,704.20 C1020.18,696.12 1020.95,686.62 1021.60,679.00 C1022.25,671.38 1022.95,660.13 1023.60,658.50 C1024.25,656.87 1024.85,664.83 1025.50,669.20 C1026.15,673.57 1027.00,678.87 1027.50,684.70 C1028.00,690.53 1028.18,698.05 1028.50,704.20 C1028.82,710.35 1028.60,718.05 1029.40,721.60 C1030.20,725.15 1032.17,723.55 1033.30,725.50 C1034.43,727.45 1035.55,729.38 1036.20,733.30 C1036.85,737.22 1036.72,741.88 1037.20,749.00 C1037.68,756.12 1038.45,766.63 1039.10,776.00 C1039.75,785.37 1040.45,795.78 1041.10,805.20 C1041.75,814.62 1042.03,827.63 1043.00,832.50 C1043.97,837.37 1045.92,832.47 1046.90,834.40 C1047.88,836.33 1048.25,839.83 1048.90,844.10 C1049.55,848.37 1050.03,849.85 1050.80,860.00 C1051.57,870.15 1052.78,894.22 1053.50,905.00 C1054.22,915.78 1054.02,918.32 1055.10,924.70 C1056.18,931.08 1058.57,936.08 1060.00,943.30 C1061.43,950.52 1062.45,960.37 1063.70,968.00 C1064.95,975.63 1066.05,982.28 1067.50,989.10 C1068.95,995.92 1070.75,1003.33 1072.40,1008.90 C1074.05,1014.47 1075.95,1020.03 1077.40,1022.50 C1078.85,1024.97 1079.67,1024.32 1081.10,1023.70 C1082.53,1023.08 1084.15,1021.88 1086.00,1018.80 C1087.85,1015.72 1090.55,1008.73 1092.20,1005.20 C1093.85,1001.67 1094.85,1001.52 1095.90,997.60 C1096.95,993.68 1097.62,985.32 1098.50,981.70 C1099.38,978.08 1099.78,975.18 1101.20,975.90 C1102.62,976.62 1105.07,986.35 1107.00,986.00 C1108.93,985.65 1111.30,974.87 1112.80,973.80 C1114.30,972.73 1115.03,976.17 1116.00,979.60 C1116.97,983.03 1117.55,991.22 1118.60,994.40 C1119.65,997.58 1121.15,997.82 1122.30,998.70 C1123.45,999.58 1124.43,998.30 1125.50,999.70 C1126.57,1001.10 1127.65,1004.45 1128.70,1007.10 C1129.75,1009.75 1130.40,1013.13 1131.80,1015.60 C1133.20,1018.07 1135.15,1020.67 1137.10,1021.90 C1139.05,1023.13 1141.03,1023.00 1143.50,1023.00 C1145.97,1023.00 1149.43,1022.43 1151.90,1021.90 C1154.37,1021.37 1156.00,1020.77 1158.30,1019.80 C1160.60,1018.83 1163.42,1016.27 1165.70,1016.10 C1167.98,1015.93 1169.72,1018.18 1172.00,1018.80 C1174.28,1019.42 1177.28,1019.18 1179.40,1019.80 C1181.52,1020.42 1181.87,1021.97 1184.70,1022.50 C1187.53,1023.03 1193.40,1023.10 1196.40,1023.00 C1199.40,1022.90 1200.07,1022.43 1202.70,1021.90 C1205.33,1021.37 1209.73,1021.20 1212.20,1019.80 C1214.67,1018.40 1215.73,1014.73 1217.50,1013.50 C1219.27,1012.27 1220.85,1012.85 1222.80,1012.40 C1224.75,1011.95 1228.13,1011.07 1229.20,1010.80" fill="none" stroke="#E81C26" stroke-width="4.2" stroke-linejoin="round" stroke-linecap="round"/>
<path d="M815.3,1017.6 L816.6,1019.8 L818.3,1019.9 L820.0,1018.4 L821.7,1019.5 L823.3,1024.0 L825.0,1019.6 L827.0,1021.6 L828.3,1019.7 L830.2,1020.2 L831.8,1019.6 L832.8,1015.9 L835.0,1018.5 L836.8,1017.4 L838.8,1018.4 L840.5,1016.3 L842.7,1018.5 L844.7,1016.4 L846.8,1015.9 L848.0,1019.3 L850.5,1017.1 L851.8,1020.8 L853.6,1020.9 L855.5,1018.9 L857.0,1021.2 L859.1,1018.3 L860.5,1021.4 L862.5,1020.4 L864.3,1020.7 L865.9,1019.5 L867.8,1019.9 L869.7,1020.2 L871.0,1017.5 L872.7,1017.8 L875.2,1018.2 L877.1,1017.5 L877.8,1015.1 L879.6,1014.3 L881.2,1015.3 L882.5,1010.6 L884.1,1009.5 L886.1,1013.8 L887.7,1013.4 L889.4,1013.4 L890.8,1010.0 L892.5,1012.4 L894.3,1012.6 L895.9,1013.3 L897.2,1014.8 L898.6,1016.1 L900.7,1018.8 L902.4,1013.0 L904.0,1014.1 L905.7,1013.8 L907.4,1017.5 L909.0,1014.6 L910.7,1015.9 L912.3,1016.1 L914.8,1012.6 L915.4,1017.4 L917.3,1017.5 L919.5,1016.3 L921.3,1016.8 L923.0,1017.4 L924.5,1018.8 L926.3,1019.1 L927.7,1020.2 L930.1,1018.4 L931.7,1019.3 L933.0,1020.9 L934.6,1021.6 L936.0,1021.0 L938.3,1023.1 L939.5,1021.4 L941.2,1021.5 L943.0,1020.5 L945.2,1020.3 L944.3,1017.3 L945.6,1016.3 L947.5,1015.8 L948.4,1014.4 L947.5,1011.5 L949.6,1010.9 L952.1,1010.7 L953.7,1009.3 L955.4,1008.2 L957.1,1007.1 L959.1,1007.8 L960.2,1008.5 L961.5,1009.7 L963.7,1009.9 L965.6,1010.8 L966.1,1012.6 L968.6,1013.1 L966.6,1016.6 L967.7,1018.0 L969.7,1018.8 L971.2,1020.6 L974.1,1023.2 L975.1,1020.7 L976.8,1020.2 L979.3,1020.1 L978.8,1017.5 L980.9,1016.9 L980.9,1014.6 L983.5,1013.9 L982.2,1012.1 L983.2,1010.5 L983.4,1008.9 L982.2,1007.1 L983.2,1005.5 L984.3,1004.0 L983.9,1002.3 L983.6,1000.6 L983.8,998.9 L984.1,997.3 L984.8,995.7 L984.7,994.0 L986.3,992.5 L985.8,990.8 L985.3,989.1 L983.9,987.2 L985.9,985.8 L986.6,984.2 L986.0,982.5 L988.0,981.0 L988.2,979.3 L987.8,977.6 L986.7,975.8 L989.1,974.6 L988.0,972.6 L985.9,970.6 L989.2,969.4 L986.8,967.2 L987.1,965.6 L989.6,964.3 L990.4,962.7 L989.4,960.8 L990.5,959.2 L990.9,957.6 L988.6,955.3 L990.8,954.0 L991.6,952.3 L990.5,950.1 L992.6,948.8 L991.9,946.8 L993.1,945.2 L993.2,943.3 L995.0,941.8 L993.8,939.9 L993.5,938.2 L992.3,936.4 L993.4,934.8 L996.1,933.3 L994.9,931.5 L995.6,929.9 L995.7,928.2 L993.6,926.3 L994.7,924.7 L994.8,923.0 L996.3,921.4 L994.5,919.6 L995.0,918.0 L995.0,916.3 L994.8,914.6 L995.7,913.0 L996.0,911.4 L995.2,909.6 L995.4,908.0 L996.4,906.3 L998.1,904.8 L996.7,903.0 L995.5,901.3 L997.1,899.8 L997.8,898.1 L997.2,896.5 L997.2,894.8 L996.6,893.2 L997.2,891.6 L996.0,889.9 L997.6,888.3 L998.6,886.7 L997.7,885.0 L998.8,883.4 L998.3,881.8 L997.8,880.1 L996.5,878.4 L998.8,876.9 L998.2,875.2 L996.2,873.4 L999.8,872.1 L999.5,870.4 L999.8,868.8 L1000.1,867.1 L998.6,865.3 L999.0,863.7 L998.3,862.0 L1000.1,860.5 L999.0,858.8 L1001.2,857.3 L998.8,855.5 L1000.3,853.9 L1001.0,852.3 L1000.1,850.6 L999.8,848.9 L999.1,847.2 L1001.4,845.7 L1001.3,844.2 L1002.2,842.7 L1000.7,840.7 L1002.9,839.5 L1002.2,837.7 L1002.7,836.2 L1002.4,834.9 L1004.0,833.2 L1006.0,832.5 L1007.3,830.8 L1006.2,829.0 L1006.6,827.3 L1006.7,825.5 L1007.1,823.8 L1007.9,822.1 L1006.3,820.2 L1007.3,818.5 L1006.7,816.7 L1007.2,815.0 L1006.7,813.4 L1005.9,811.7 L1007.0,810.2 L1006.1,808.5 L1008.8,807.0 L1006.3,805.3 L1007.0,803.7 L1007.8,802.1 L1007.3,800.5 L1008.9,798.9 L1007.6,797.3 L1006.4,795.6 L1008.7,794.1 L1007.5,792.4 L1010.6,790.9 L1007.1,789.2 L1007.6,787.6 L1008.1,786.0 L1007.1,784.4 L1008.8,782.8 L1009.5,781.2 L1009.8,779.6 L1008.8,778.0 L1008.3,776.3 L1009.7,774.8 L1009.6,773.2 L1008.4,771.5 L1008.2,769.9 L1007.9,768.3 L1008.9,766.7 L1008.7,765.1 L1009.5,763.5 L1009.8,761.9 L1007.9,760.2 L1009.4,758.6 L1009.4,757.0 L1008.8,755.3 L1009.4,753.7 L1010.5,752.1 L1009.4,750.3 L1009.4,748.7 L1009.2,747.0 L1009.9,745.4 L1009.3,743.6 L1010.3,742.0 L1008.8,740.3 L1009.3,738.6 L1010.4,737.0 L1011.3,735.3 L1009.7,733.5 L1010.3,731.8 L1011.0,730.1 L1010.2,728.3 L1010.8,726.6 L1011.0,724.9 L1009.6,723.1 L1009.4,721.4 L1011.1,719.7 L1010.3,717.4 L1012.9,715.8 L1013.1,717.4 L1014.2,718.9 L1014.7,720.5 L1014.9,722.1 L1013.5,724.1 L1016.8,725.3 L1014.2,727.2 L1015.2,728.9 L1015.9,730.5 L1015.2,732.2 L1015.7,733.9 L1016.6,735.5 L1016.0,737.2 L1015.9,738.9 L1015.8,740.6 L1016.2,742.3 L1016.5,744.0 L1018.5,745.5 L1017.3,747.3 L1016.5,749.2 L1018.3,750.8 L1017.0,749.1 L1017.3,747.4 L1017.0,745.8 L1016.8,744.1 L1018.5,742.5 L1018.9,740.8 L1018.2,739.1 L1018.6,737.5 L1019.6,735.9 L1017.4,734.1 L1018.5,732.5 L1018.5,730.8 L1019.5,729.2 L1017.5,727.4 L1017.3,725.8 L1019.2,724.2 L1018.3,722.5 L1019.2,720.9 L1019.6,719.2 L1019.5,717.5 L1020.0,715.9 L1019.5,714.2 L1019.3,712.5 L1018.0,710.8 L1020.3,709.2 L1018.4,707.5 L1019.5,705.9 L1020.8,704.3 L1018.4,702.4 L1020.6,700.9 L1019.4,699.1 L1020.1,697.5 L1018.9,695.7 L1018.6,694.0 L1021.0,692.5 L1022.5,690.9 L1021.5,689.1 L1021.0,687.4 L1021.2,685.7 L1022.7,684.2 L1022.7,682.5 L1021.0,680.6 L1020.7,678.9 L1023.4,677.5 L1021.6,675.6 L1022.7,673.9 L1023.3,672.3 L1021.7,670.4 L1022.1,668.7 L1021.5,666.9 L1023.9,665.4 L1023.0,663.6 L1024.0,662.0 L1022.3,660.1 L1023.0,658.6 L1024.7,660.2 L1024.4,662.0 L1025.7,663.6 L1025.1,665.6 L1024.6,667.5 L1025.8,669.2 L1026.0,670.9 L1025.5,672.7 L1026.4,674.3 L1026.0,676.1 L1026.5,677.8 L1026.1,679.6 L1027.4,681.2 L1027.1,683.0 L1027.3,684.7 L1026.2,686.4 L1027.3,688.0 L1028.7,689.5 L1028.9,691.1 L1027.9,692.8 L1028.3,694.4 L1028.8,696.0 L1028.6,697.7 L1027.6,699.4 L1029.8,700.9 L1028.2,702.6 L1028.7,704.2 L1027.2,706.0 L1030.2,707.6 L1028.4,709.4 L1029.0,711.2 L1028.8,712.9 L1028.6,714.7 L1027.4,716.5 L1028.8,718.1 L1028.8,719.9 L1030.2,720.8 L1030.3,723.3 L1032.8,723.4 L1033.4,725.5 L1033.5,727.2 L1033.3,729.1 L1034.2,730.5 L1035.4,731.8 L1035.4,733.3 L1036.5,735.0 L1036.3,736.8 L1036.6,738.5 L1035.9,740.3 L1036.9,742.0 L1037.7,743.7 L1038.0,745.4 L1035.0,747.4 L1039.0,748.9 L1037.4,750.7 L1037.6,752.4 L1037.7,754.1 L1038.5,755.7 L1037.3,757.5 L1037.8,759.1 L1038.9,760.8 L1038.5,762.5 L1039.3,764.1 L1038.0,765.9 L1036.8,767.7 L1037.2,769.3 L1037.8,771.0 L1038.8,772.6 L1038.9,774.3 L1038.6,776.0 L1037.8,777.7 L1039.2,779.3 L1039.4,780.9 L1040.6,782.4 L1039.6,784.1 L1039.6,785.7 L1040.4,787.3 L1040.8,788.9 L1040.1,790.6 L1039.9,792.2 L1040.9,793.8 L1039.7,795.5 L1040.8,797.1 L1040.3,798.7 L1039.4,800.4 L1041.3,801.9 L1041.0,803.6 L1041.3,805.2 L1041.5,806.8 L1041.0,808.4 L1042.8,809.9 L1041.3,811.6 L1042.9,813.1 L1042.3,814.8 L1041.2,816.5 L1043.5,817.9 L1040.9,819.7 L1040.6,821.4 L1041.4,822.9 L1041.8,824.5 L1042.5,826.1 L1042.8,827.7 L1040.9,829.4 L1043.8,830.8 L1043.0,832.5 L1044.7,833.9 L1047.3,834.3 L1048.3,835.8 L1047.3,837.7 L1047.9,839.3 L1049.7,840.6 L1049.1,842.4 L1049.6,844.0 L1049.3,845.7 L1048.8,847.3 L1048.7,849.0 L1050.8,850.3 L1049.9,852.0 L1050.6,853.6 L1051.7,855.1 L1049.8,856.9 L1051.0,858.4 L1051.0,860.0 L1052.9,861.5 L1050.5,863.2 L1051.0,864.8 L1050.5,866.5 L1051.8,868.0 L1049.9,869.7 L1051.2,871.3 L1052.1,872.8 L1051.2,874.5 L1051.1,876.1 L1052.4,877.6 L1050.9,879.4 L1051.6,880.9 L1051.4,882.5 L1051.2,884.2 L1049.8,885.9 L1052.5,887.3 L1053.0,888.9 L1052.2,890.6 L1052.8,892.1 L1055.0,893.6 L1051.0,895.5 L1052.6,897.0 L1054.7,898.5 L1053.8,900.1 L1053.0,901.8 L1053.7,903.4 L1053.9,905.0 L1053.4,906.7 L1052.8,908.4 L1052.9,910.0 L1053.8,911.6 L1053.8,913.2 L1055.8,914.7 L1055.8,916.4 L1054.6,918.1 L1055.2,919.7 L1054.7,921.4 L1055.8,923.0 L1055.7,924.5 L1055.6,926.2 L1058.0,927.2 L1057.5,929.0 L1056.2,931.0 L1057.1,932.4 L1058.6,933.7 L1057.8,935.6 L1056.8,937.5 L1057.6,939.0 L1060.3,939.9 L1060.2,941.6 L1061.8,943.0 L1060.9,944.9 L1061.8,946.4 L1061.6,948.1 L1060.7,949.9 L1061.5,951.5 L1061.8,953.1 L1063.2,954.6 L1061.1,956.6 L1062.5,958.1 L1063.8,959.6 L1062.7,961.4 L1061.9,963.2 L1064.5,964.5 L1063.1,966.4 L1064.9,967.8 L1063.2,969.8 L1063.7,971.3 L1064.8,972.8 L1065.8,974.3 L1066.6,975.9 L1066.3,977.6 L1065.0,979.5 L1065.8,981.0 L1066.4,982.6 L1067.2,984.1 L1067.1,985.8 L1066.7,987.6 L1069.8,988.5 L1068.4,990.6 L1068.4,992.4 L1069.8,993.8 L1069.7,995.6 L1069.8,997.3 L1071.1,998.7 L1071.5,1000.4 L1072.2,1002.0 L1072.2,1003.7 L1071.7,1005.6 L1071.4,1007.4 L1072.6,1008.8 L1073.3,1010.3 L1074.4,1011.6 L1074.0,1013.4 L1075.1,1014.8 L1074.3,1016.8 L1075.8,1017.9 L1075.6,1019.7 L1076.6,1021.1 L1077.4,1022.4 L1079.2,1023.2 L1080.5,1023.1 L1082.7,1022.8 L1083.3,1021.0 L1084.2,1019.4 L1085.9,1018.8 L1087.3,1017.6 L1087.3,1015.7 L1085.9,1013.3 L1088.1,1012.5 L1089.3,1011.2 L1090.4,1009.9 L1090.0,1007.8 L1091.6,1006.8 L1092.7,1005.4 L1093.2,1003.8 L1092.1,1001.4 L1093.7,1000.3 L1094.4,998.8 L1095.2,997.5 L1095.9,996.0 L1097.3,994.6 L1096.5,992.8 L1095.8,991.0 L1095.8,989.4 L1097.9,988.1 L1096.7,986.3 L1097.6,984.8 L1099.4,983.5 L1099.7,982.3 L1100.6,980.3 L1099.2,977.3 L1099.9,976.7 L1102.1,977.3 L1102.0,979.3 L1103.7,980.2 L1103.6,982.2 L1105.3,983.1 L1106.1,984.6 L1106.9,985.9 L1107.0,984.1 L1108.5,983.0 L1109.9,981.8 L1109.0,979.4 L1110.7,978.4 L1110.5,976.4 L1111.1,974.8 L1114.1,973.1 L1112.1,976.1 L1114.2,976.8 L1115.4,978.0 L1115.0,979.8 L1118.2,980.9 L1116.5,982.9 L1117.4,984.4 L1116.5,986.3 L1118.7,987.6 L1117.6,989.5 L1118.0,991.1 L1116.9,993.0 L1118.9,994.1 L1119.8,995.8 L1120.7,997.6 L1122.2,999.1 L1123.7,999.7 L1125.4,999.8 L1127.0,1000.8 L1125.6,1003.2 L1125.8,1004.8 L1127.9,1005.7 L1129.3,1006.9 L1128.3,1009.2 L1130.8,1010.2 L1130.3,1012.3 L1132.5,1013.4 L1130.7,1016.5 L1133.7,1016.2 L1133.7,1018.3 L1135.4,1019.0 L1136.4,1020.4 L1137.3,1020.8 L1138.7,1022.1 L1140.5,1021.4 L1141.7,1023.7 L1143.4,1022.2 L1145.2,1022.7 L1147.0,1023.3 L1148.6,1023.1 L1150.3,1023.0 L1152.2,1022.9 L1153.6,1021.8 L1155.3,1021.5 L1157.0,1021.2 L1157.7,1018.7 L1159.8,1019.1 L1161.3,1018.4 L1162.7,1017.5 L1164.5,1017.4 L1166.1,1015.2 L1167.8,1015.5 L1169.1,1016.9 L1170.2,1018.6 L1172.1,1018.0 L1174.1,1016.9 L1175.5,1020.5 L1177.4,1020.8 L1179.1,1020.4 L1181.2,1020.6 L1183.0,1021.4 L1184.7,1021.3 L1186.4,1021.6 L1188.0,1023.5 L1189.7,1022.3 L1191.3,1024.0 L1193.1,1022.7 L1194.8,1020.8 L1196.4,1023.2 L1198.8,1024.2 L1200.7,1022.6 L1202.6,1021.3 L1204.1,1020.9 L1206.0,1021.8 L1207.3,1020.1 L1208.8,1019.3 L1210.7,1020.3 L1212.3,1019.9 L1212.7,1018.1 L1213.6,1016.7 L1215.7,1016.3 L1215.1,1013.6 L1217.4,1012.9 L1219.2,1012.6 L1221.4,1014.5 L1222.6,1011.5 L1224.6,1012.7 L1226.0,1011.4 L1227.9,1012.3 L1229.2,1010.8" fill="none" stroke="#E81C26" stroke-width="3" stroke-linejoin="round"/>
<g fill="#E81C26">
<polygon points="815,1015.5 822,1016.8 835,1017.8 848,1016.5 860,1017.3 870,1015.8 872,1020 860,1022.5 845,1024 830,1024.8 815,1024.8"/>
<polygon points="1020.5,700 1022,672 1023.6,656.5 1025.8,668 1027.5,690 1027.3,700"/>
<polygon points="1010.2,722 1011.5,715.5 1013.5,715 1016,722 1017.5,735 1018.5,748 1016.5,752.5 1015,743 1012.5,732 1010.5,740"/>
<polygon points="1029,720 1033.5,723 1036.5,730 1037.5,738 1035,736 1031,731 1029,728"/>
<polygon points="999.5,846 1001,836 1004,832 1006.8,833 1006.5,842 1003,847"/>
<polygon points="1043,832 1047,832.5 1049,838 1049,846 1046,845 1043.5,840"/>
</g>
<path d="M1311.20,1019.10 C1313.28,1019.39 1313.96,1019.03 1319.00,1020.20 C1324.04,1021.37 1322.69,1022.33 1330.10,1023.50 C1337.51,1024.67 1339.36,1024.89 1346.80,1024.60 C1354.24,1024.31 1352.05,1023.44 1358.00,1022.40 C1363.95,1021.36 1362.59,1021.45 1369.10,1020.70 C1375.61,1019.95 1375.87,1019.44 1382.40,1019.60 C1388.93,1019.76 1388.24,1019.97 1393.60,1021.30 C1398.96,1022.63 1398.34,1023.85 1402.50,1024.60 C1406.66,1025.35 1405.63,1026.47 1409.20,1024.10 C1412.77,1021.73 1412.65,1020.31 1415.90,1015.70 C1419.15,1011.09 1418.44,1013.04 1421.40,1006.80 C1424.36,1000.56 1424.57,1000.33 1427.00,992.30 C1429.43,984.27 1428.77,984.70 1430.50,976.70 C1432.23,968.70 1432.03,970.75 1433.50,962.30 C1434.97,953.85 1434.53,954.95 1436.00,945.00 C1437.47,935.05 1437.53,934.20 1439.00,925.00 C1440.47,915.80 1439.47,920.98 1441.50,910.50 C1443.53,900.02 1444.09,898.90 1446.60,885.70 C1449.11,872.50 1448.74,872.55 1450.90,861.00 C1453.06,849.45 1452.06,850.67 1454.70,842.40 C1457.34,834.13 1458.35,836.61 1460.80,830.00 C1463.25,823.39 1462.41,825.87 1463.90,817.60 C1465.39,809.33 1465.07,808.89 1466.40,799.00 C1467.73,789.11 1467.41,788.74 1468.90,780.50 C1470.39,772.26 1470.35,774.71 1472.00,768.10 C1473.65,761.49 1473.13,761.97 1475.10,755.70 C1477.07,749.43 1477.43,751.21 1479.40,744.60 C1481.37,737.99 1481.35,736.85 1482.50,730.90 C1483.65,724.95 1482.55,726.25 1483.70,722.30 C1484.85,718.35 1484.80,716.10 1486.80,716.10 C1488.80,716.10 1489.20,719.18 1491.20,722.30 C1493.20,725.42 1492.49,727.13 1494.30,727.80 C1496.11,728.47 1496.53,727.60 1498.00,724.80 C1499.47,722.00 1498.15,717.97 1499.80,717.30 C1501.45,716.63 1502.39,719.31 1504.20,722.30 C1506.01,725.29 1505.29,724.55 1506.60,728.50 C1507.91,732.45 1507.77,731.50 1509.10,737.10 C1510.43,742.70 1510.27,745.21 1511.60,749.50 C1512.93,753.79 1512.79,749.89 1514.10,753.20 C1515.41,756.51 1515.19,756.27 1516.50,761.90 C1517.81,767.53 1517.67,767.71 1519.00,774.30 C1520.33,780.89 1520.33,780.01 1521.50,786.60 C1522.67,793.19 1522.41,791.72 1523.40,799.00 C1524.39,806.28 1524.21,805.63 1525.20,813.90 C1526.19,822.17 1526.11,820.75 1527.10,830.00 C1528.09,839.25 1527.43,838.71 1528.90,848.60 C1530.37,858.49 1530.60,857.21 1532.60,867.10 C1534.60,876.99 1534.43,875.14 1536.40,885.70 C1538.37,896.26 1538.03,895.15 1540.00,906.70 C1541.97,918.25 1542.01,917.45 1543.80,929.00 C1545.59,940.55 1545.05,940.83 1546.70,950.00 C1548.35,959.17 1547.92,955.08 1550.00,963.40 C1552.08,971.72 1551.83,972.29 1554.50,981.20 C1557.17,990.11 1557.04,989.09 1560.00,996.80 C1562.96,1004.51 1562.61,1003.86 1565.60,1010.10 C1568.59,1016.34 1567.92,1016.47 1571.20,1020.20 C1574.48,1023.93 1574.35,1023.22 1577.90,1024.10 C1581.45,1024.98 1581.25,1024.86 1584.50,1023.50 C1587.75,1022.14 1586.53,1022.87 1590.10,1019.00 C1593.67,1015.13 1593.45,1015.53 1597.90,1009.00 C1602.35,1002.47 1602.05,1001.33 1606.80,994.50 C1611.55,987.67 1611.25,987.99 1615.70,983.40 C1620.15,978.81 1619.63,979.51 1623.50,977.30 C1627.37,975.09 1627.21,975.10 1630.20,975.10 C1633.19,975.10 1632.33,975.09 1634.70,977.30 C1637.07,979.51 1636.14,980.28 1639.10,983.40 C1642.06,986.52 1642.23,985.43 1645.80,989.00 C1649.37,992.57 1648.34,991.76 1652.50,996.80 C1656.66,1001.84 1656.36,1003.15 1661.40,1007.90 C1666.44,1012.65 1665.77,1010.73 1671.40,1014.60 C1677.03,1018.47 1676.55,1019.73 1682.50,1022.40 C1688.45,1025.07 1688.34,1024.15 1693.70,1024.60 C1699.06,1025.05 1697.56,1025.27 1702.60,1024.10 C1707.64,1022.93 1708.44,1021.85 1712.60,1020.20 C1716.76,1018.55 1714.63,1018.65 1718.20,1017.90 C1721.77,1017.15 1723.92,1017.53 1726.00,1017.40" fill="none" stroke="#1E2A8C" stroke-width="4.3" stroke-linejoin="round" stroke-linecap="round"/>
<line x1="1122.6" y1="713" x2="1168.2" y2="713" stroke="#E81C26" stroke-width="3"/>
<line x1="1122.6" y1="759.2" x2="1168.2" y2="759.2" stroke="#1E2A8C" stroke-width="3"/>
<text class="sans" x="1189.5" y="723.7" font-size="34.5" fill="#000"><tspan font-style="italic">w</tspan> = 1440 nm</text>
<text class="sans" x="1189.5" y="771.1" font-size="34.5" fill="#000"><tspan font-style="italic">w</tspan> = 1380 nm</text>
<text class="sans" x="792.2" y="1028.2" font-size="34.5" fill="#000" text-anchor="end">0</text>
<text class="sans" x="792.7" y="969.6" font-size="34.5" fill="#000" text-anchor="end">500</text>
<text class="sans" x="795.6" y="901.3" font-size="34.5" fill="#000" text-anchor="end">1000</text>
<text class="sans" x="795.6" y="832.9" font-size="34.5" fill="#000" text-anchor="end">1500</text>
<text class="sans" x="795.6" y="764.6" font-size="34.5" fill="#000" text-anchor="end">2000</text>
<text class="sans" x="795.6" y="696.2" font-size="34.5" fill="#000" text-anchor="end">2500</text>
<text class="sans" x="795.6" y="627.9" font-size="34.5" fill="#000" text-anchor="end">3000</text>
<text class="sans" x="808.3" y="1068.6" font-size="34.5" fill="#000" text-anchor="middle">1480</text>
<text class="sans" x="946.3" y="1068.6" font-size="34.5" fill="#000" text-anchor="middle">1500</text>
<text class="sans" x="1084.3" y="1068.6" font-size="34.5" fill="#000" text-anchor="middle">1520</text>
<text class="sans" x="1222.3" y="1068.6" font-size="34.5" fill="#000" text-anchor="middle">1540</text>
<text class="sans" x="1340.2" y="1068.6" font-size="34.5" fill="#000" text-anchor="middle">1600</text>
<text class="sans" x="1478.2" y="1068.6" font-size="34.5" fill="#000" text-anchor="middle">1620</text>
<text class="sans" x="1616.2" y="1068.6" font-size="34.5" fill="#000" text-anchor="middle">1640</text>
<text class="sans" x="1754.2" y="1068.6" font-size="34.5" fill="#000" text-anchor="middle">1660</text>
<text class="sans" x="1271" y="1118.7" font-size="34.3" fill="#000" text-anchor="middle">Pump wavelength (nm)</text>
<text class="sans" transform="translate(694,841.7) rotate(-90)" font-size="34.5" fill="#000" text-anchor="middle"><tspan class="ser" font-style="italic">η</tspan> (%/W-cm<tspan font-size="22" dy="-13">2</tspan><tspan dy="13">)</tspan></text>
<rect x="76.5" y="604" width="551.5" height="450.5" fill="rgb(141,117,116)"/>
<filter id="tex" x="0" y="0" width="100%" height="100%"><feTurbulence type="fractalNoise" baseFrequency="0.14" numOctaves="2" seed="5"/><feColorMatrix type="matrix" values="0.33 0.33 0.33 0 0  0.33 0.33 0.33 0 0  0.33 0.33 0.33 0 0  0 0 0 0 1"/></filter>
<rect x="76.5" y="604" width="551.5" height="450.5" filter="url(#tex)" opacity="0.16"/>
<polygon points="76.5,695.0 628.0,718.6 628.0,759.1 76.5,735.5" fill="#1A5F88"/>
<polygon points="76.5,735.5 628.0,759.1 628.0,769.1 76.5,745.5" fill="#16537A"/>
<polygon points="160.7,698.6 215,700.9 215,741.4 160.7,739.1" fill="#82A3B4"/>
<polygon points="160.7,739.1 213.5,741.4 213.5,751.4 151.7,748.7" fill="#87A8B8"/>
<polygon points="304.5,704.8 367.6,707.5 367.6,748.0 304.5,745.3" fill="#82A3B4"/>
<polygon points="304.5,745.3 366.1,747.9 366.1,757.9 295.5,754.9" fill="#87A8B8"/>
<polygon points="456.7,711.3 506.5,713.4 506.5,753.9 456.7,751.8" fill="#82A3B4"/>
<polygon points="456.7,751.8 505.0,753.8 505.0,763.8 447.7,761.4" fill="#87A8B8"/>
<polygon points="603.5,717.6 628.0,718.6 628.0,759.1 603.5,758.1" fill="#82A3B4"/>
<polygon points="603.5,758.1 628.0,759.1 628.0,769.1 594.5,767.7" fill="#87A8B8"/>
<line x1="76.5" y1="695.8" x2="628.0" y2="719.4" stroke="#a9d0dc" stroke-width="1.6" opacity="0.85"/>
<line x1="76.5" y1="746.1" x2="628.0" y2="769.7" stroke="#3b2c30" stroke-width="1.6" opacity="0.45"/>
<polygon points="76.5,688.0 628.0,711.6 628.0,718.6 76.5,695.0" fill="#6a5050" opacity="0.12"/>
<line x1="76.5" y1="735.5" x2="628.0" y2="759.1" stroke="#5f98b3" stroke-width="1" opacity="0.6"/>
<polygon points="76.5,883.4 628.0,906.6 628.0,947.1 76.5,923.9" fill="#1A5F88"/>
<polygon points="76.5,923.9 628.0,947.1 628.0,958.1 76.5,934.9" fill="#16537A"/>
<polygon points="149.3,886.5 206.2,888.8 206.2,929.3 149.3,927.0" fill="#82A3B4"/>
<polygon points="149.3,927.0 204.7,929.3 204.7,940.3 140.3,937.6" fill="#87A8B8"/>
<polygon points="294.3,892.5 357,895.2 357,935.7 294.3,933.0" fill="#82A3B4"/>
<polygon points="294.3,933.0 355.5,935.6 355.5,946.6 285.3,943.7" fill="#87A8B8"/>
<polygon points="441.8,898.7 499,901.1 499,941.6 441.8,939.2" fill="#82A3B4"/>
<polygon points="441.8,939.2 497.5,941.6 497.5,952.6 432.8,949.9" fill="#87A8B8"/>
<polygon points="592.5,905.1 628.0,906.6 628.0,947.1 592.5,945.6" fill="#82A3B4"/>
<polygon points="592.5,945.6 628.0,947.1 628.0,958.1 583.5,956.2" fill="#87A8B8"/>
<line x1="76.5" y1="884.2" x2="628.0" y2="907.4" stroke="#a9d0dc" stroke-width="1.6" opacity="0.85"/>
<line x1="76.5" y1="935.5" x2="628.0" y2="958.7" stroke="#3b2c30" stroke-width="1.6" opacity="0.45"/>
<polygon points="76.5,876.4 628.0,899.6 628.0,906.6 76.5,883.4" fill="#6a5050" opacity="0.12"/>
<line x1="76.5" y1="923.9" x2="628.0" y2="947.1" stroke="#5f98b3" stroke-width="1" opacity="0.6"/>
<g fill="#fff" stroke="none">
<rect x="190.2" y="693.8" width="3.2" height="30"/>
<polygon points="182.4,723.4 200.8,723.4 191.8,745.1"/>
<rect x="261.9" y="720" width="3.2" height="31.7"/>
<polygon points="254.8,722 273.6,722 264,700.3"/>
</g>
<text class="sans" x="110.8" y="991.6" font-size="45.5" fill="#fff">2 μm</text>
<rect x="126.8" y="1013" width="75.3" height="8" fill="#fff"/>
<g stroke="#000" stroke-width="3" fill="none" stroke-dasharray="12.7 13.85">
<line x1="82.3" y1="603.4" x2="627" y2="603.4"/>
<line x1="76.3" y1="611.2" x2="76.3" y2="1056"/>
<line x1="627.5" y1="615.5" x2="627.5" y2="1056.5"/>
<line x1="627.5" y1="1055.1" x2="76" y2="1055.1"/>
</g>
</svg></body></html>
